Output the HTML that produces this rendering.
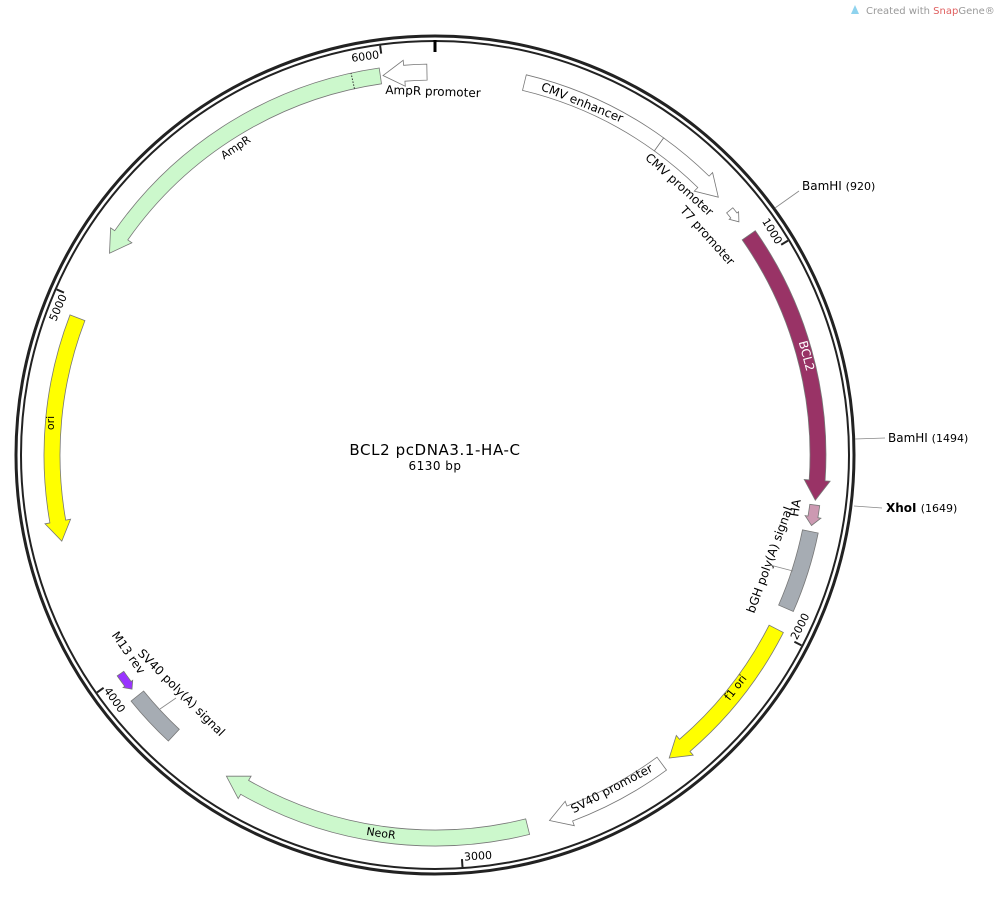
<!DOCTYPE html>
<html><head><meta charset="utf-8"><style>
html,body{margin:0;padding:0;background:#fff;}
svg{display:block;font-family:"DejaVu Sans","Liberation Sans",sans-serif;}
</style></head><body>
<svg id="s" width="994" height="902" viewBox="0 0 994 902" xmlns="http://www.w3.org/2000/svg">
<text x="866" y="14" font-size="10" fill="#999">Created with <tspan fill="#e06060">Snap</tspan>Gene®</text>
<path d="M851 14 L855 5 L859 14 Z" fill="#8fd3ee"/>
<circle cx="435" cy="455" r="419" fill="none" stroke="#222" stroke-width="3"/>
<circle cx="435" cy="455" r="414" fill="none" stroke="#222" stroke-width="2"/>
<line x1="435" y1="40" x2="435" y2="52" stroke="#000" stroke-width="3"/>
<g id="g"></g>
<text x="435" y="455" font-size="15" text-anchor="middle" letter-spacing="0.6">BCL2 pcDNA3.1-HA-C</text>
<text x="435" y="470" font-size="12" text-anchor="middle" letter-spacing="0.5">6130 bp</text>
<g font-size="12">
<line x1="775" y1="208" x2="799" y2="191" stroke="#888" stroke-width="0.8"/>
<text x="802" y="190">BamHI <tspan font-size="11">(920)</tspan></text>
<line x1="855" y1="439" x2="885" y2="438" stroke="#888" stroke-width="0.8"/>
<text x="888" y="442">BamHI <tspan font-size="11">(1494)</tspan></text>
<line x1="854" y1="506" x2="882" y2="508" stroke="#888" stroke-width="0.8"/>
<text x="886" y="512" font-weight="bold">XhoI <tspan font-weight="normal" font-size="11">(1649)</tspan></text>
</g>
</svg>
<script>
var C=[435,455],R=Math.PI/180;
function P(a,r){return [C[0]+r*Math.sin(a*R),C[1]-r*Math.cos(a*R)];}
function f(p){return p[0].toFixed(1)+" "+p[1].toFixed(1);}
var out="";
function arc(a1,a2,r){var sw=a2>a1?1:0,la=Math.abs(a2-a1)>180?1:0;return "A"+r+" "+r+" 0 "+la+" "+sw+" "+f(P(a2,r));}
function arrow(s,e,fill,opt){opt=opt||{};var r=383,w=opt.w||16,hw=opt.hw||(w/2+5),h=opt.h||2.8;var d=e>s?1:-1;var b=e-d*h;
 if(Math.abs(e-s)<h){b=s;}
 var p="M"+f(P(s,r+w/2))+arc(s,b,r+w/2)+"L"+f(P(b,r+hw))+"L"+f(P(e,r))+"L"+f(P(b,r-hw))+"L"+f(P(b,r-w/2))+arc(b,s,r-w/2)+"Z";
 out+='<path d="'+p+'" fill="'+fill+'" stroke="#777" stroke-width="0.8"/>';}
function rect(s,e,fill,w){var r=383;w=w||16;var p="M"+f(P(s,r+w/2))+arc(s,e,r+w/2)+"L"+f(P(e,r-w/2))+arc(e,s,r-w/2)+"Z";
 out+='<path d="'+p+'" fill="'+fill+'" stroke="#777" stroke-width="0.8"/>';}
function txt(x,y,rot,t,o){o=o||{};out+='<text x="'+x+'" y="'+y+'" font-size="'+(o.fs||12)+'" text-anchor="middle" fill="'+(o.fill||"#000")+'" transform="rotate('+rot+' '+x+' '+y+')" dominant-baseline="middle">'+t+'</text>';}
function line(a,b){out+='<line x1="'+a[0]+'" y1="'+a[1]+'" x2="'+b[0]+'" y2="'+b[1]+'" stroke="#888" stroke-width="0.8"/>';}
arrow(358.8,352.2,"#fff",{h:3.2});
arrow(351.8,301.8,"#ccf8cc",{h:3.2});
var d1=P(347.6,375),d2=P(347.6,391);out+='<line x1="'+d1[0]+'" y1="'+d1[1]+'" x2="'+d2[0]+'" y2="'+d2[1]+'" stroke="#333" stroke-dasharray="1.5 1.5"/>';
arrow(291,257,"#ffff00",{h:3});
arrow(235.2,232.3,"#9933ff",{w:8,hw:6,h:1});
rect(223,231,"#a6acb3");
arrow(166,213,"#ccf8cc",{h:3.2});
arrow(143.7,162.6,"#fff",{h:3.2});
arrow(117,142.3,"#ffff00",{h:3});
rect(101.5,113.6,"#a6acb3");
arrow(97.5,100.6,"#cc99b2",{w:10,hw:8,h:1.3});
arrow(55,96.8,"#993366",{h:3});
arrow(50.3,52.5,"#fff",{w:8,hw:6,h:1.2});
rect(13.5,35.8,"#fff");
arrow(35.8,47.7,"#fff",{h:3.2});
[[1000,"1000"],[2000,"2000"],[3000,"3000"],[4000,"4000"],[5000,"5000"],[6000,"6000"]].forEach(function(t){var a=t[0]/6130*360;var p1=P(a,413),p2=P(a,405);
 out+='<line x1="'+p1[0]+'" y1="'+p1[1]+'" x2="'+p2[0]+'" y2="'+p2[1]+'" stroke="#222" stroke-width="2"/>';
 var rot=a>90&&a<270?a-180:a;var q=P(a-2.3,404);txt(q[0],q[1],rot,t[1],{fs:11});});
txt(433,92,2,"AmpR promoter");
txt(236,148,-34,"AmpR",{fs:11});
txt(51,423,-90,"ori",{fs:11});
txt(582,103,22,"CMV enhancer");
txt(679,185,42,"CMV promoter");
txt(707,236,48,"T7 promoter");
txt(806,356,75,"BCL2",{fill:"#fff"});
txt(796,508,-81,"HA");
txt(770,560,-70,"bGH poly(A) signal");
line([793,571],[770,565]);
txt(736,688,-52,"f1 ori",{fs:11});
txt(612,789,-28,"SV40 promoter");
txt(381,834,8,"NeoR",{fs:11});
txt(181,693,45,"SV40 poly(A) signal");
line([160,709],[176,698]);
txt(128,653,55,"M13 rev");
document.getElementById("g").innerHTML=out;
</script>
</body></html>
